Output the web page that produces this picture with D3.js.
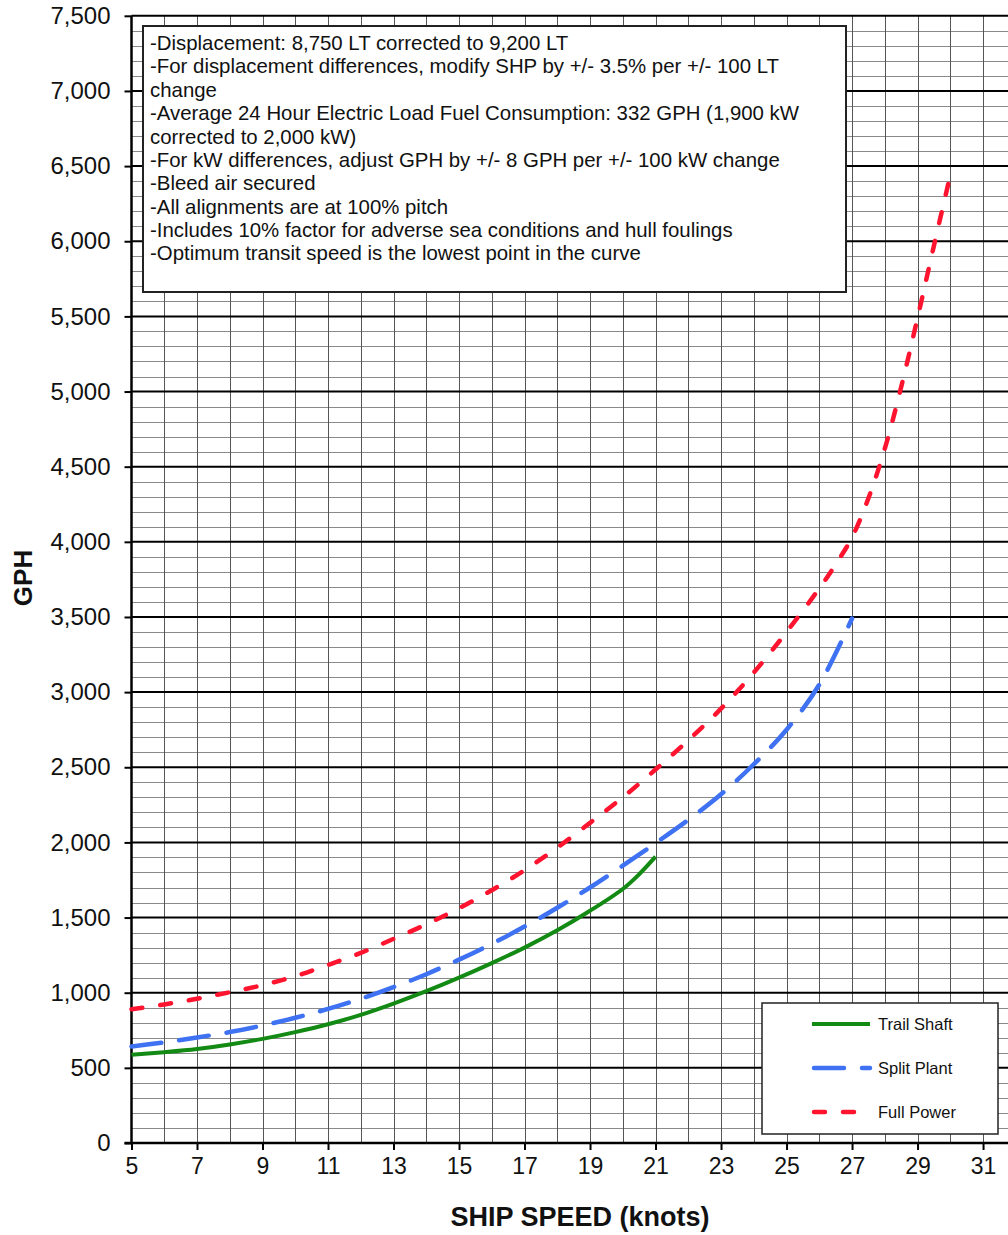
<!DOCTYPE html>
<html><head><meta charset="utf-8">
<script src="https://cdn.jsdelivr.net/npm/d3@7"></script>
<style>body{margin:0;background:#fff} svg{display:block} text{font-family:Arial,"Liberation Sans",sans-serif;fill:#111}</style>
</head><body><svg id="c" width="1008" height="1235"></svg>
<script>
// ---- data ----
const trailSpeed = [5,6,7,8,9,10,11,12,13,14,15,16,17,18,19,20,20.5,21];
const trailGph   = [587,604,625,655,693,738,790,853,928,1010,1100,1197,1300,1415,1545,1690,1788,1905];
const splitSpeed = [5,6,7,8,9,10,11,12,13,14,15,16,17,18,19,20,21,22,23,24,25,26,27];
const splitGph   = [642,670,702,738,782,833,892,960,1037,1123,1220,1325,1440,1565,1700,1845,1995,2150,2320,2520,2750,3050,3490];
const fullSpeed  = [5,6,7,8,9,10,11,12,13,14,15,16,17,18,19,20,21,22,23,24,25,26,26.5,27,27.5,28,28.5,29,29.5,30];
const fullGph    = [890,922,960,1003,1050,1110,1185,1265,1358,1455,1562,1682,1815,1965,2130,2300,2485,2680,2890,3130,3400,3690,3850,4030,4290,4620,5030,5490,5970,6440];
const seriesNames = ["Trail Shaft","Split Plant","Full Power"];
const xTicks = [5,7,9,11,13,15,17,19,21,23,25,27,29,31];
const yTicks = [0,500,1000,1500,2000,2500,3000,3500,4000,4500,5000,5500,6000,6500,7000,7500];
const noteLines = [
 "-Displacement: 8,750 LT corrected to 9,200 LT",
 "-For displacement differences, modify SHP by +/- 3.5% per +/- 100 LT",
 "change",
 "-Average 24 Hour Electric Load Fuel Consumption: 332 GPH (1,900 kW",
 "corrected to 2,000 kW)",
 "-For kW differences, adjust GPH by +/- 8 GPH per +/- 100 kW change",
 "-Bleed air secured",
 "-All alignments are at 100% pitch",
 "-Includes 10% factor for adverse sea conditions and hull foulings",
 "-Optimum transit speed is the lowest point in the curve"
];
const xTitle = "SHIP SPEED (knots)";
const yTitle = "GPH";

// ---- scales ----
const svg = d3.select("#c");
const x = d3.scaleLinear().domain([5,32]).range([131.5,1015.8]);
const y = d3.scaleLinear().domain([0,7500]).range([1143,15.8]);
const fmt = d3.format(",");

// grid
const g = svg.append("g");
const yMinor = d3.range(0,7501,100).filter(v=>v%500!==0);
g.selectAll(".hm").data(yMinor).join("line")
  .attr("x1",x(5)).attr("x2",1008).attr("y1",d=>Math.round(y(d))+0.5).attr("y2",d=>Math.round(y(d))+0.5)
  .attr("stroke","#8a8a8a").attr("stroke-width",1);
const xGrid = d3.range(6,33,1);
g.selectAll(".vg").data(xGrid).join("line")
  .attr("x1",d=>Math.round(x(d))+0.5).attr("x2",d=>Math.round(x(d))+0.5).attr("y1",y(7500)).attr("y2",y(0))
  .attr("stroke","#555").attr("stroke-width",1);
g.selectAll(".hM").data(yTicks.filter(v=>v>0)).join("line")
  .attr("x1",x(5)).attr("x2",1008).attr("y1",d=>y(d)).attr("y2",d=>y(d))
  .attr("stroke","#000").attr("stroke-width",2);

// axes
const yAxis = svg.append("g").attr("transform",`translate(${x(5)},0)`)
  .call(d3.axisLeft(y).tickValues(yTicks).tickFormat(fmt).tickSize(7).tickPadding(14));
yAxis.select(".domain").attr("stroke","#000").attr("stroke-width",2.5).attr("d",`M0,${y(7500)}V${y(0)}`);
yAxis.selectAll(".tick line").attr("stroke","#000").attr("stroke-width",2);
yAxis.selectAll(".tick text").attr("font-size",24).attr("font-family","Arial, 'Liberation Sans', sans-serif").attr("fill","#111");

const xAxis = svg.append("g").attr("transform",`translate(0,${y(0)})`)
  .call(d3.axisBottom(x).tickValues(xTicks).tickSize(7).tickPadding(8));
xAxis.select(".domain").attr("stroke","#000").attr("stroke-width",2.5).attr("d",`M${x(5)-7},0H1008`);
xAxis.selectAll(".tick line").attr("stroke","#000").attr("stroke-width",2);
xAxis.selectAll(".tick text").attr("font-size",23).attr("font-family","Arial, 'Liberation Sans', sans-serif").attr("fill","#111");

// curves
const line = d3.line().x(d=>x(d[0])).y(d=>y(d[1])).curve(d3.curveCatmullRom.alpha(0.5));
const series = [
  {name:seriesNames[0], pts:d3.zip(trailSpeed,trailGph), color:"#138a13", dash:null, w:4},
  {name:seriesNames[1], pts:d3.zip(splitSpeed,splitGph), color:"#3f72f2", dash:"30,18", w:4.5},
  {name:seriesNames[2], pts:d3.zip(fullSpeed,fullGph), color:"#ff1430", dash:"11,18", w:4.5}
];
svg.selectAll(".s").data(series).join("path")
  .attr("d",d=>line(d.pts)).attr("fill","none").attr("stroke",d=>d.color)
  .attr("stroke-width",d=>d.w).attr("stroke-dasharray",d=>d.dash).attr("stroke-linecap",d=>d.dash?"round":"butt");

// note box
svg.append("rect").attr("x",143).attr("y",26).attr("width",703).attr("height",266)
  .attr("fill","#fff").attr("stroke","#222").attr("stroke-width",2);
svg.append("g").selectAll("text").data(noteLines).join("text")
  .attr("x",150).attr("y",(d,i)=>43+i*23.35).attr("dy","0.35em")
  .attr("font-size",20.4).text(d=>d);

// legend
svg.append("rect").attr("x",762).attr("y",1003).attr("width",236).attr("height",131)
  .attr("fill","#fff").attr("stroke","#222").attr("stroke-width",1.5);
const lg = svg.append("g").selectAll("g").data(series).join("g")
  .attr("transform",(d,i)=>`translate(0,${1024+i*44})`);
lg.append("line").attr("x1",d=>d.dash?814:812).attr("x2",870).attr("y1",0).attr("y2",0)
  .attr("stroke",d=>d.color).attr("stroke-width",d=>d.w)
  .attr("stroke-dasharray",d=>d.dash).attr("stroke-linecap",d=>d.dash?"round":"butt");
lg.append("text").attr("x",878).attr("y",0).attr("dy","0.35em").attr("font-size",16.5).text(d=>d.name);

// titles
svg.append("text").attr("x",580).attr("y",1226).attr("text-anchor","middle")
  .attr("font-size",27).attr("font-weight","bold").text(xTitle);
svg.append("text").attr("transform","translate(32,578) rotate(-90)").attr("text-anchor","middle")
  .attr("font-size",26).attr("font-weight","bold").text(yTitle);
</script></body></html>
